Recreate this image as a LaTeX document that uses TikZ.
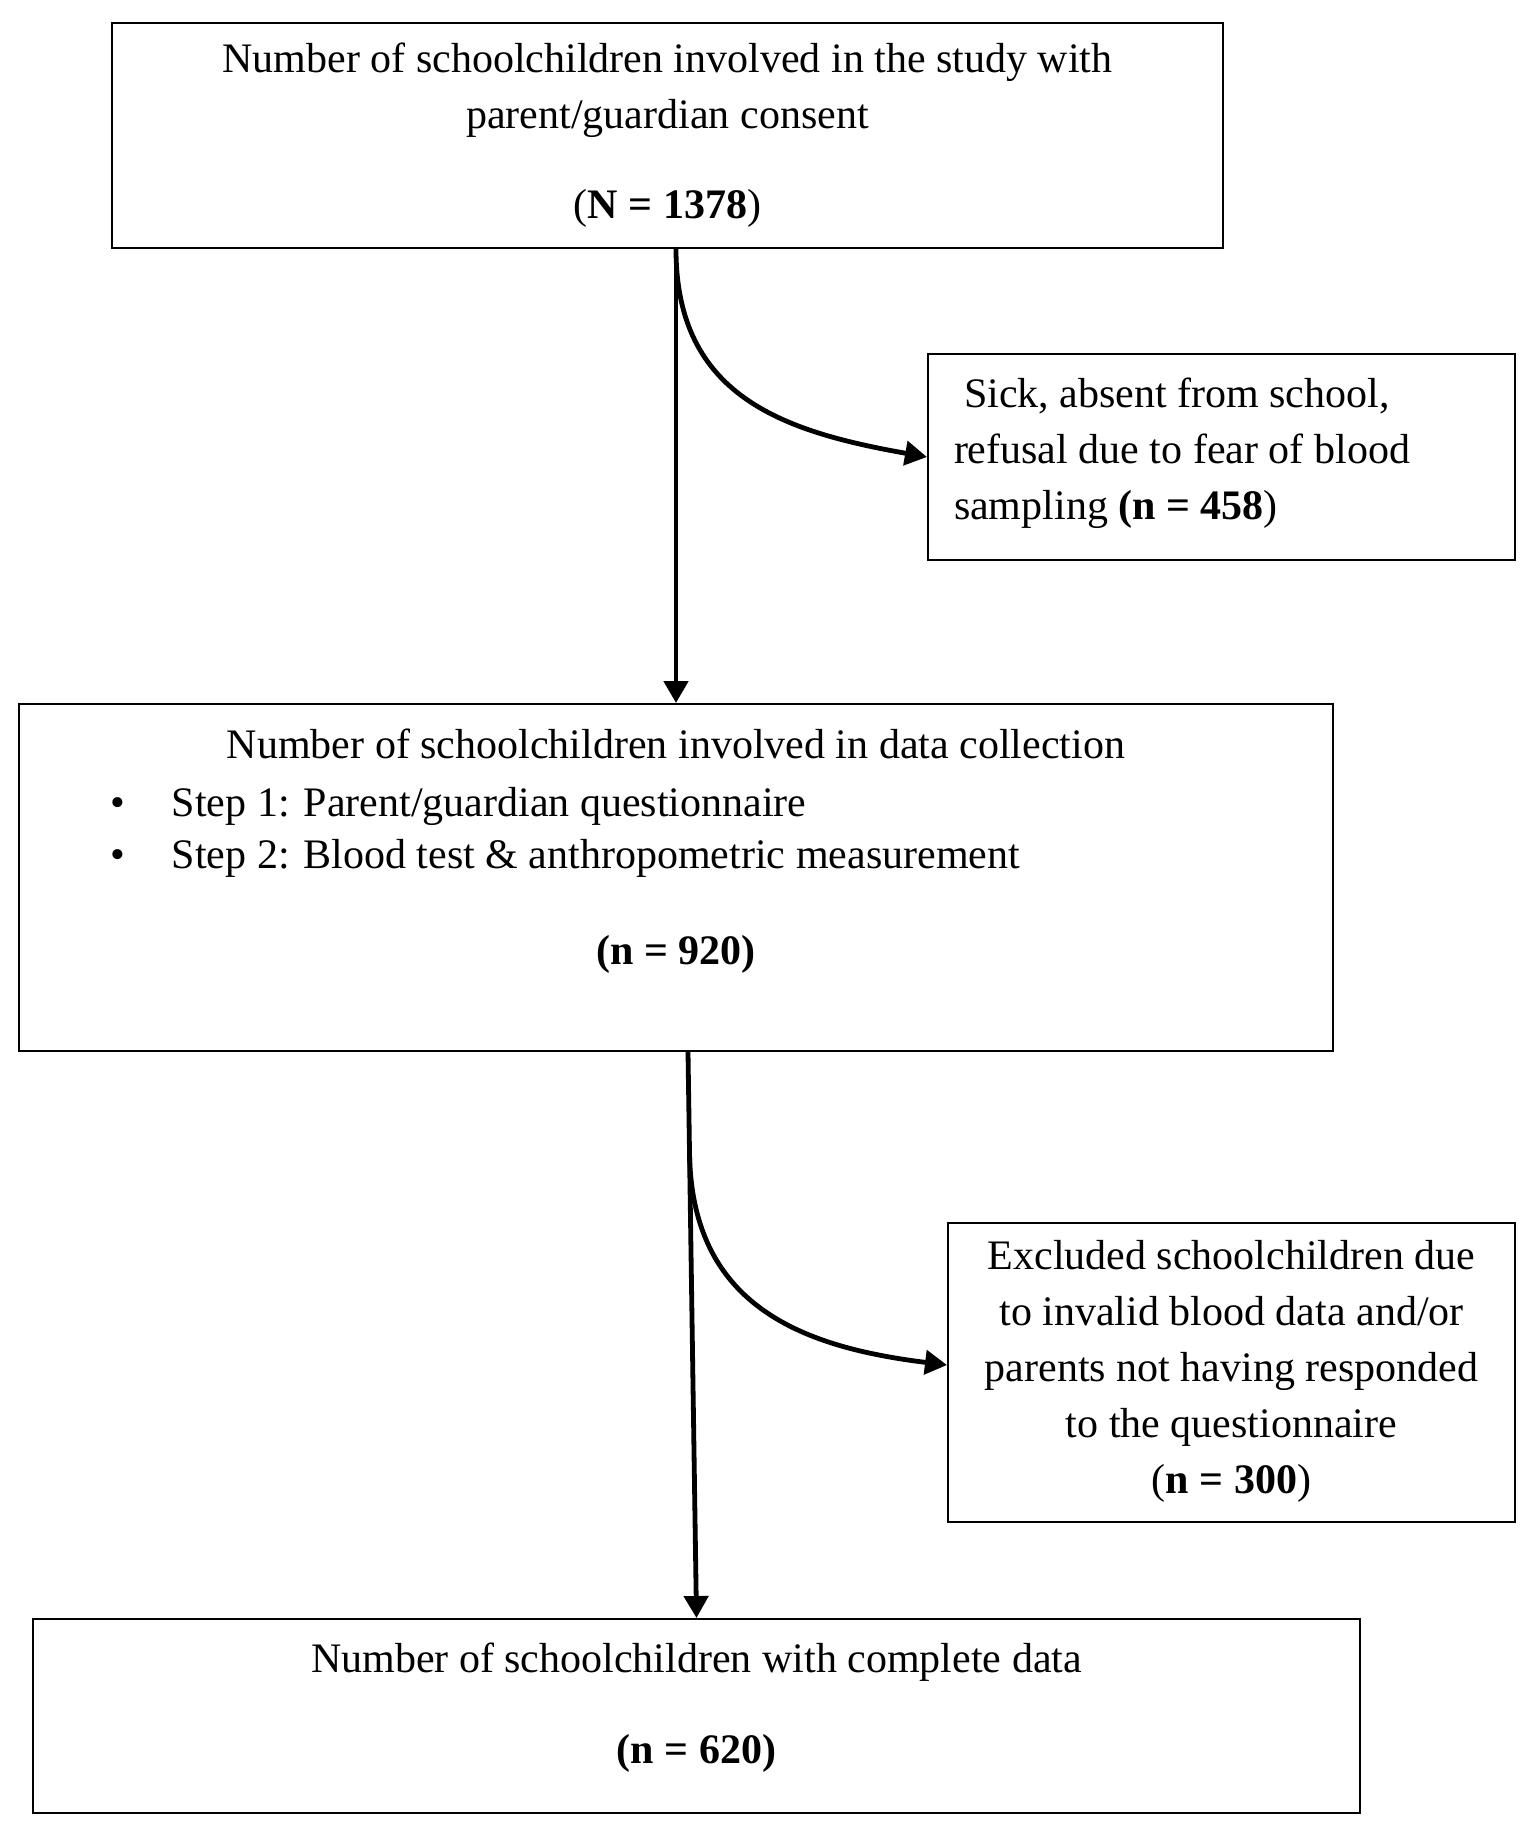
\documentclass[tikz,border=0pt]{standalone}
\usepackage{fontspec}
\setmainfont{Liberation Serif}
\usetikzlibrary{arrows.meta,calc}
\newcommand{\lowpad}[1]{\rule[-#1]{0pt}{#1}}

\begin{document}
\begin{tikzpicture}[x=0.5pt,y=0.5pt,
	font=\fontsize{21pt}{28pt}\selectfont,
	box/.style={draw, line width=1pt, rectangle, inner sep=0pt},
	flow/.style={line width=2.4pt, -{Triangle[width=12pt,length=11pt]}}]
	\useasboundingbox (0,0) rectangle (1524,-1837);
	\node[box, minimum width=555.5pt, minimum height=112.5pt, align=flush center] (consent) at (667.5,-135.5)
		{Number of schoolchildren involved in the study with\\
		parent/guardian consent\\[17pt]
		(\textbf{N = 1378})\lowpad{4.5pt}};
	\node[box, minimum height=103pt, text width=267.5pt, inner xsep=13pt, align=flush left] (absent) at (1221.5,-457)
		{\hspace*{5pt}Sick, absent from school,\\
		refusal due to fear of blood\\
		sampling \textbf{(n = 458})\lowpad{7.9pt}};
	\node[box, minimum width=657pt, minimum height=173.5pt, align=flush center] (collect) at (676,-877.5)
		{Number of schoolchildren involved in data collection\\[1pt]
		\makebox[657pt][l]{\hspace*{45.5pt}\textbullet\hspace{23.6pt}Step 1: Parent/guardian questionnaire}\\[-2pt]
		\makebox[657pt][l]{\hspace*{45.5pt}\textbullet\hspace{23.6pt}Step 2: Blood test \& anthropometric measurement}\\[20pt]
		\textbf{(n = 920)}\lowpad{30.7pt}};
	\node[box, minimum width=283.5pt, minimum height=149.5pt, align=flush center] (excluded) at (1231.5,-1372.5)
		{Excluded schoolchildren due\\
		to invalid blood data and/or\\
		parents not having responded\\
		to the questionnaire\\
		(\textbf{n = 300})\lowpad{5.5pt}};
	\node[box, minimum width=663.5pt, minimum height=97pt, align=flush center] (complete) at (696.5,-1716)
		{Number of schoolchildren with complete data\\[17.5pt]
		\textbf{(n = 620)}\lowpad{12.7pt}};
	% arrows
	\coordinate (fork) at (consent.south -| collect.north);
	\draw[flow] (fork) -- (collect.north);
	\draw[flow] (fork) to[out=-90, in=170, looseness=1.15] (absent.west);
	\coordinate (split) at ($(collect.south)+(12,0)$);
	\draw[flow] (split) -- (complete.north);
	\coordinate (branch) at ($(split)!0.18!(complete.north)$);
	\draw[flow] (branch) to[out=-89, in=173, looseness=1.15] ([yshift=3.75pt]excluded.west);
\end{tikzpicture}
\end{document}
